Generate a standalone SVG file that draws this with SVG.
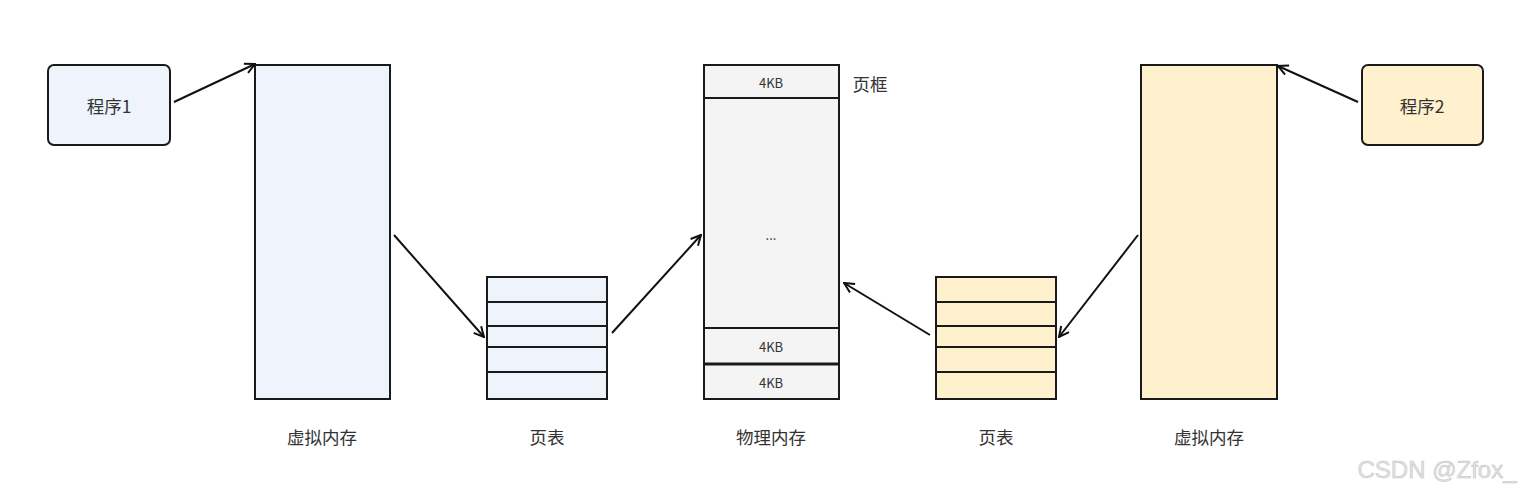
<svg xmlns="http://www.w3.org/2000/svg" width="1532" height="496" viewBox="0 0 1532 496">
<style>
.bx{stroke:#1a1a1a;stroke-width:2}
.blue{fill:#EEF3FC}
.yel{fill:#FFF1CD}
.gray{fill:#F4F4F4}
.t{font-family:"Noto Sans CJK SC","Noto Sans",sans-serif;fill:#333;text-anchor:middle;dominant-baseline:central}
.lbl{font-size:17.5px}
.sm{font-size:13px}
.ln{stroke:#1a1a1a;stroke-width:2}
.ar{stroke:#111;stroke-width:2;fill:none;marker-end:url(#ah)}
</style>
<defs>
<marker id="ah" viewBox="0 0 12 12" refX="11" refY="6" markerWidth="12" markerHeight="12" markerUnits="userSpaceOnUse" orient="auto">
<path d="M1,1 L11,6 L1,11" fill="none" stroke="#111" stroke-width="2"/>
</marker>
</defs>
<rect width="1532" height="496" fill="#fff"/>
<g id="prog1"><rect class="bx blue" x="48" y="65" width="122" height="80" rx="6"/><text class="t lbl" x="109" y="105">程序1</text></g>
<g id="vm1"><rect class="bx blue" x="255" y="65" width="135" height="334"/><text class="t lbl" x="322" y="436">虚拟内存</text></g>
<g id="pt1"><rect class="bx blue" x="487" y="277" width="120" height="122"/>
<line class="ln" x1="487" y1="302" x2="607" y2="302"/><line class="ln" x1="487" y1="326" x2="607" y2="326"/><line class="ln" x1="487" y1="347" x2="607" y2="347"/><line class="ln" x1="487" y1="372" x2="607" y2="372"/>
<text class="t lbl" x="547" y="436">页表</text></g>
<g id="pm"><rect class="bx gray" x="704" y="65" width="135" height="334"/>
<line class="ln" x1="704" y1="98" x2="839" y2="98"/><line class="ln" x1="704" y1="328" x2="839" y2="328"/><line x1="704" y1="364" x2="839" y2="364" stroke="#1a1a1a" stroke-width="3"/>
<text class="t sm" x="771" y="82">4KB</text><text class="t sm" x="771" y="234">...</text><text class="t sm" x="771" y="346">4KB</text><text class="t sm" x="771" y="382">4KB</text>
<text class="t lbl" x="870" y="83">页框</text>
<text class="t lbl" x="771" y="436">物理内存</text></g>
<g id="pt2"><rect class="bx yel" x="936" y="277" width="120" height="122"/>
<line class="ln" x1="936" y1="302" x2="1056" y2="302"/><line class="ln" x1="936" y1="326" x2="1056" y2="326"/><line class="ln" x1="936" y1="347" x2="1056" y2="347"/><line class="ln" x1="936" y1="372" x2="1056" y2="372"/>
<text class="t lbl" x="996" y="436">页表</text></g>
<g id="vm2"><rect class="bx yel" x="1141" y="65" width="136" height="334"/><text class="t lbl" x="1209" y="436">虚拟内存</text></g>
<g id="prog2"><rect class="bx yel" x="1362" y="65" width="121" height="80" rx="6"/><text class="t lbl" x="1422" y="105">程序2</text></g>
<g id="connectors">
<line class="ar" x1="174" y1="102" x2="255" y2="64"/>
<line class="ar" x1="394" y1="235" x2="484" y2="337"/>
<line class="ar" x1="612" y1="333" x2="701" y2="235"/>
<line class="ar" x1="930" y1="335" x2="844" y2="283"/>
<line class="ar" x1="1138" y1="235" x2="1059" y2="337"/>
<line class="ar" x1="1358" y1="102" x2="1278" y2="66"/>
</g>
<text x="1437" y="469" font-family="Liberation Sans,Arial,sans-serif" font-size="24" fill="#e2e2e2" stroke="#c4c4c4" stroke-width="0.5" text-anchor="middle" dominant-baseline="central">CSDN @Zfox_</text>
</svg>
